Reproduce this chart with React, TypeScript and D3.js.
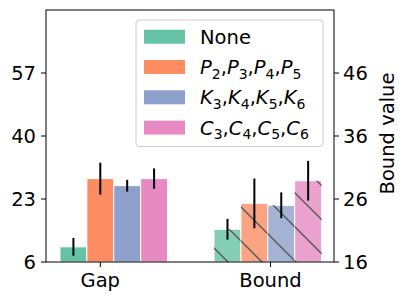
import React, { useEffect, useRef } from "react";
import * as d3 from "d3";

// categories on the x axis
const groups = ["Gap", "Bound"];
// series labels: [letter, subscripts]
const seriesNames = ["None", "P", "K", "C"];
const seriesSubs = [[], ["2", "3", "4", "5"], ["3", "4", "5", "6"], ["3", "4", "5", "6"]];
const colors = ["#66c2a5", "#fc8d62", "#8da0cb", "#e78ac3"];

// Gap values (left axis) and Bound values (right axis), one per series
const gapValues = [10.1, 28.5, 26.6, 28.5];
const gapErrors = [2.4, 4.3, 1.6, 2.75];
const boundValues = [21.2, 25.3, 25.0, 28.9];
const boundErrors = [1.65, 3.95, 2.05, 3.15];

const leftTicks = [6, 23, 40, 57];
const rightTicks = [16, 26, 36, 46];

const W = 407;
const H = 302;

const App = () => {
  const ref = useRef(null);

  useEffect(() => {
    const svg = d3.select(ref.current);
    svg.selectAll("*").remove();

    const font = "DejaVu Sans, sans-serif";
    const fs = 19.5;
    const box = { left: 46, right: 334, top: 10, bottom: 262 };

    const x = d3.scaleLinear().domain([0, 1]).range([100.3, 270.5]);
    const yL = d3.scaleLinear().domain([6, 74]).range([box.bottom, box.top]);
    const yR = d3.scaleLinear().domain([16, 56]).range([box.bottom, box.top]);
    const bw = 0.158;
    const shift = [-1, -1.6];
    const bwPx = bw * (x(1) - x(0));

    const defs = svg.append("defs");
    const pat = defs
      .append("pattern")
      .attr("id", "hatch")
      .attr("patternUnits", "userSpaceOnUse")
      .attr("width", 34)
      .attr("height", 34);
    pat
      .append("path")
      .attr("d", "M0,0L34,34M-8.5,25.5L8.5,42.5M25.5,-8.5L42.5,8.5")
      .attr("stroke", "#333")
      .attr("stroke-width", 1.5);

    // Gap bars
    gapValues.forEach((v, i) => {
      const cx = x(0) + (i + shift[0]) * bwPx;
      svg
        .append("rect")
        .attr("x", cx - bwPx / 2)
        .attr("y", yL(v))
        .attr("width", bwPx)
        .attr("height", yL(6) - yL(v))
        .attr("fill", colors[i])
        .attr("stroke", "white")
        .attr("stroke-width", 1);
    });
    // Bound bars
    boundValues.forEach((v, i) => {
      const cx = x(1) + (i + shift[1]) * bwPx;
      const g = svg.append("g").attr("opacity", 0.8);
      g.append("rect")
        .attr("x", cx - bwPx / 2)
        .attr("y", yR(v))
        .attr("width", bwPx)
        .attr("height", yR(16) - yR(v))
        .attr("fill", colors[i])
        .attr("stroke", "white")
        .attr("stroke-width", 1);
      g.append("rect")
        .attr("x", cx - bwPx / 2)
        .attr("y", yR(v))
        .attr("width", bwPx)
        .attr("height", yR(16) - yR(v))
        .attr("fill", "url(#hatch)");
    });
    // error bars
    gapValues.forEach((v, i) => {
      const cx = x(0) + (i + shift[0]) * bwPx;
      svg
        .append("line")
        .attr("x1", cx)
        .attr("x2", cx)
        .attr("y1", yL(v - gapErrors[i]))
        .attr("y2", yL(v + gapErrors[i]))
        .attr("stroke", "black")
        .attr("stroke-width", 2);
    });
    boundValues.forEach((v, i) => {
      const cx = x(1) + (i + shift[1]) * bwPx;
      svg
        .append("line")
        .attr("x1", cx)
        .attr("x2", cx)
        .attr("y1", yR(v - boundErrors[i]))
        .attr("y2", yR(v + boundErrors[i]))
        .attr("stroke", "black")
        .attr("stroke-width", 2);
    });

    // frame
    svg
      .append("rect")
      .attr("x", box.left)
      .attr("y", box.top)
      .attr("width", box.right - box.left)
      .attr("height", box.bottom - box.top)
      .attr("fill", "none")
      .attr("stroke", "black")
      .attr("stroke-width", 1);

    // left axis
    leftTicks.forEach((t) => {
      svg
        .append("line")
        .attr("x1", box.left - 5)
        .attr("x2", box.left)
        .attr("y1", yL(t))
        .attr("y2", yL(t))
        .attr("stroke", "black");
      svg
        .append("text")
        .attr("x", box.left - 10)
        .attr("y", yL(t))
        .attr("dy", "0.36em")
        .attr("text-anchor", "end")
        .attr("font-family", font)
        .attr("font-size", fs)
        .text(t);
    });
    // right axis
    rightTicks.forEach((t) => {
      svg
        .append("line")
        .attr("x1", box.right)
        .attr("x2", box.right + 5)
        .attr("y1", yR(t))
        .attr("y2", yR(t))
        .attr("stroke", "black");
      svg
        .append("text")
        .attr("x", box.right + 9)
        .attr("y", yR(t))
        .attr("dy", "0.36em")
        .attr("text-anchor", "start")
        .attr("font-family", font)
        .attr("font-size", fs)
        .text(t);
    });
    svg
      .append("text")
      .attr("transform", `translate(394,133.5) rotate(-90)`)
      .attr("text-anchor", "middle")
      .attr("font-family", font)
      .attr("font-size", fs)
      .text("Bound value");

    // x axis
    groups.forEach((g, i) => {
      svg
        .append("line")
        .attr("x1", x(i))
        .attr("x2", x(i))
        .attr("y1", box.bottom)
        .attr("y2", box.bottom + 5)
        .attr("stroke", "black");
      svg
        .append("text")
        .attr("x", x(i))
        .attr("y", 286.5)
        .attr("text-anchor", "middle")
        .attr("font-family", font)
        .attr("font-size", fs)
        .text(g);
    });

    // legend
    const lg = svg.append("g");
    lg.append("rect")
      .attr("x", 136)
      .attr("y", 20)
      .attr("width", 187)
      .attr("height", 126.5)
      .attr("rx", 3)
      .attr("fill", "white")
      .attr("fill-opacity", 0.8)
      .attr("stroke", "#cccccc");
    seriesNames.forEach((name, i) => {
      const cy = 36.7 + i * 30.3;
      lg.append("rect")
        .attr("x", 144)
        .attr("y", cy - 7)
        .attr("width", 41)
        .attr("height", 14)
        .attr("fill", colors[i]);
      const t = lg
        .append("text")
        .attr("x", 200)
        .attr("y", cy + 7)
        .attr("font-family", font)
        .attr("font-size", fs);
      const subs = seriesSubs[i];
      if (subs.length === 0) {
        t.text(name);
      } else {
        subs.forEach((s, j) => {
          t.append("tspan").attr("font-style", "italic").text(name);
          t.append("tspan").attr("font-size", 14).attr("dy", 4.5).text(s);
          t.append("tspan").attr("dy", -4.5).text(j < subs.length - 1 ? "," : "");
        });
      }
    });
  }, []);

  return (
    <svg
      ref={ref}
      width={W}
      height={H}
      style={{ position: "absolute", left: 0, top: 0, display: "block" }}
    />
  );
};

export default App;
